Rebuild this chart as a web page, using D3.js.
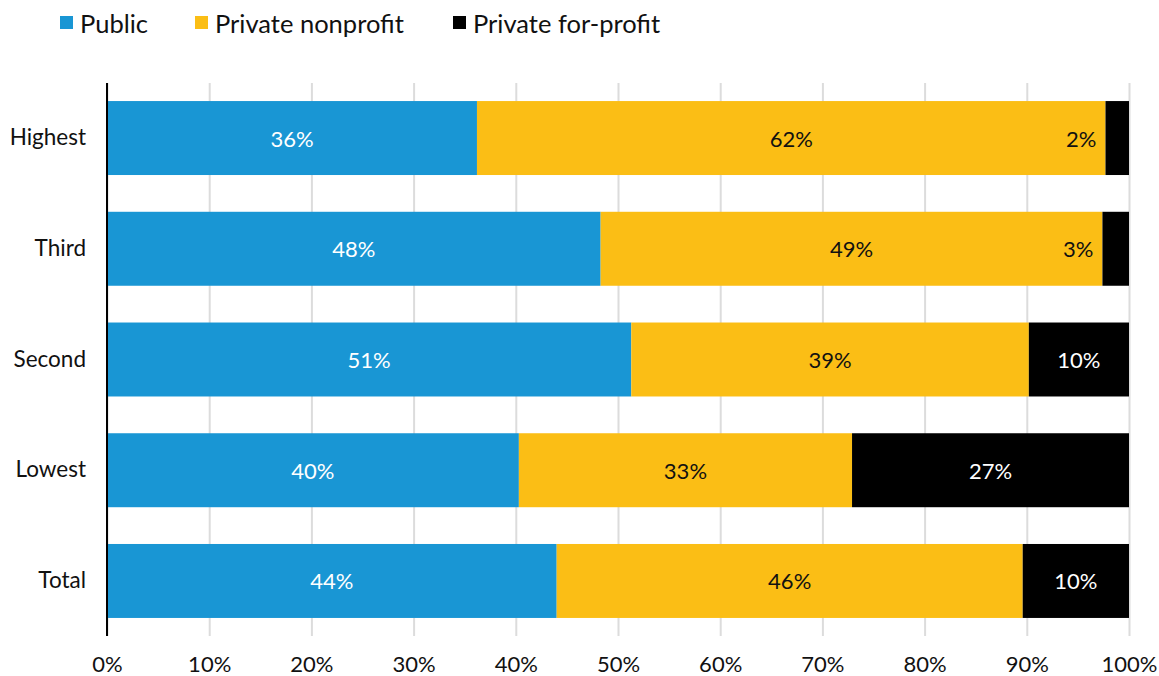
<!DOCTYPE html>
<html>
<head>
<meta charset="utf-8">
<script src="https://cdn.jsdelivr.net/npm/d3@7"></script>
<style>
  html, body { margin: 0; padding: 0; background: #fff; }
  svg { display: block; font-family: Lato, "Open Sans", sans-serif; }
</style>
</head>
<body>
<svg id="chart" width="1159" height="676"></svg>
<script>
// Share of enrollment by institution type, per group (percent)
const categories = ["Highest", "Third", "Second", "Lowest", "Total"];
const seriesNames = ["Public", "Private nonprofit", "Private for-profit"];
const publicVals     = [36.2, 48.3, 51.3, 40.3, 44.0];
const nonprofitVals  = [61.5, 49.1, 38.9, 32.6, 45.6];
const forprofitVals  = [2.3, 2.6, 9.8, 27.1, 10.4];
const tickValues = [0, 10, 20, 30, 40, 50, 60, 70, 80, 90, 100];
const tickLabels = ["0%", "10%", "20%", "30%", "40%", "50%", "60%", "70%", "80%", "90%", "100%"];

const colors = ["#1996d4", "#fbbe15", "#000000"];
const labelColors = ["#ffffff", "#111111", "#ffffff"];

const svg = d3.select("#chart");
const plotLeft = 107, plotRight = 1129, plotTop = 84, plotBottom = 635;

const x = d3.scaleLinear().domain([0, 100]).range([plotLeft, plotRight]);
const y = d3.scaleBand().domain(categories).range([plotTop, plotBottom])
  .paddingInner(0.332).paddingOuter(0.154);

// Vertical gridlines
const gridAxis = d3.axisBottom(x).tickValues(tickValues)
  .tickSize(-(plotBottom - plotTop + 2)).tickFormat("");
const grid = svg.append("g").attr("transform", `translate(0,${plotBottom + 1})`).call(gridAxis);
grid.select(".domain").remove();
grid.selectAll(".tick line").attr("stroke", "#dcdcdc").attr("stroke-width", 2);

// Tick labels
const labelAxis = d3.axisBottom(x).tickValues(tickValues).tickSize(0)
  .tickFormat((d, i) => tickLabels[i]);
const la = svg.append("g").attr("transform", `translate(0,${plotBottom + 18})`).call(labelAxis);
la.select(".domain").remove();
la.selectAll("text").attr("font-size", 22).attr("fill", "#111").attr("font-family", "Lato, sans-serif");

// Stack data
const rows = categories.map((c, i) => ({
  cat: c, Public: publicVals[i], "Private nonprofit": nonprofitVals[i], "Private for-profit": forprofitVals[i]
}));
const stacked = d3.stack().keys(seriesNames)(rows);

const layers = svg.append("g").selectAll("g").data(stacked).join("g")
  .attr("fill", (d, i) => colors[i]);

layers.selectAll("rect").data(d => d.map(p => ({ p, cat: p.data.cat })))
  .join("rect")
  .attr("x", d => x(d.p[0]))
  .attr("y", d => y(d.cat))
  .attr("width", d => x(d.p[1]) - x(d.p[0]))
  .attr("height", y.bandwidth());

// Value labels
const fmt = v => Math.round(v) + "%";
stacked.forEach((layer, si) => {
  layer.forEach(p => {
    const v = p[1] - p[0];
    const w = x(p[1]) - x(p[0]);
    const cy = y(p.data.cat) + y.bandwidth() / 2;
    const t = svg.append("text")
      .attr("font-size", 22)
      .attr("dominant-baseline", "central")
      .text(fmt(v));
    if (w < 40) {
      // too narrow: place label just left of the segment
      t.attr("x", x(p[0]) - 9).attr("y", cy).attr("text-anchor", "end").attr("fill", "#111");
    } else {
      t.attr("x", (x(p[0]) + x(p[1])) / 2).attr("y", cy).attr("text-anchor", "middle").attr("fill", labelColors[si]);
    }
  });
});

// Category axis
const yAxis = d3.axisLeft(y).tickSize(0).tickPadding(21);
const ya = svg.append("g").attr("transform", `translate(${plotLeft},0)`).call(yAxis);
ya.select(".domain").remove();
ya.selectAll("text").attr("font-size", 22.5).attr("fill", "#111").attr("font-family", "Lato, sans-serif");
svg.append("line")
  .attr("x1", plotLeft).attr("x2", plotLeft)
  .attr("y1", plotTop - 1).attr("y2", plotBottom + 1)
  .attr("stroke", "#000").attr("stroke-width", 2);

// Legend
const legendX = [60, 195, 453];
const legend = svg.append("g").selectAll("g").data(seriesNames).join("g")
  .attr("transform", (d, i) => `translate(${legendX[i]},0)`);
legend.append("rect").attr("x", 0).attr("y", 16).attr("width", 13).attr("height", 13)
  .attr("fill", (d, i) => colors[i]);
legend.append("text").attr("x", 20).attr("y", 23).attr("dominant-baseline", "central")
  .attr("font-size", 25.5).attr("fill", "#111").text(d => d);
</script>
</body>
</html>
